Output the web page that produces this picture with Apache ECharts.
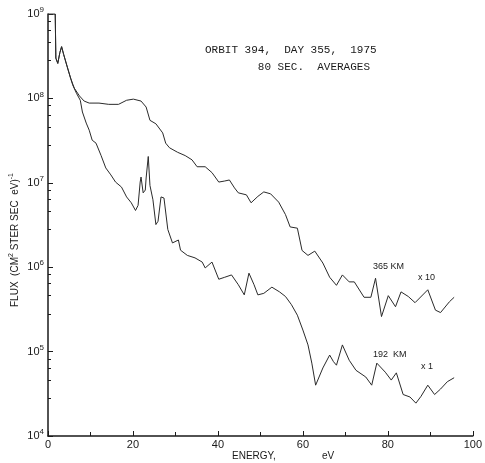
<!DOCTYPE html>
<html>
<head>
<meta charset="utf-8">
<script src="https://cdn.jsdelivr.net/npm/echarts@6/dist/echarts.min.js"></script>
<style>
html, body { margin: 0; padding: 0; background: #fff; }
#Flux { width: 485px; height: 463px; }
</style>
</head>
<body>
<div id="Flux"></div>
<script>
// 365 km (x10) curve, energy in eV / flux
var upperE = [0, 1.7, 1.85, 2.3, 2.8, 3.2, 3.7, 4.2, 4.6,
              5.3, 6.2, 7.4, 8.5, 9.7, 12.0, 14.3, 16.6, 18.5, 20.1,
              21.9, 23.1, 24.0, 25.4, 27.0, 27.7, 28.6, 30.5, 32.3, 33.9,
              35.1, 37.0, 38.6, 40.2, 41.6, 42.7, 43.9, 44.8, 46.7, 47.8,
              49.4, 50.8, 52.4, 54.3, 55.9, 57.0, 58.7, 59.8, 61.2, 62.8,
              64.7, 66.3, 67.9, 69.3, 70.9, 72.1, 74.4, 76.0, 77.1, 78.5,
              80.1, 81.8, 83.1, 84.8, 86.4, 89.4, 91.2, 92.4, 94.5, 95.6];
var upperF = [1e9, 1e9, 3.0e8, 2.6e8, 3.5e8, 4.1e8, 3.3e8, 2.7e8, 2.3e8,
              1.74e8, 1.32e8, 1.07e8, 9.3e7, 8.8e7, 8.8e7, 8.5e7, 8.5e7, 9.5e7, 9.8e7,
              9.3e7, 7.9e7, 5.5e7, 5.0e7, 3.9e7, 2.95e7, 2.6e7, 2.3e7, 2.1e7, 1.87e7,
              1.55e7, 1.55e7, 1.32e7, 1.02e7, 1.05e7, 1.08e7, 8.7e6, 7.6e6, 7.2e6, 5.8e6,
              6.9e6, 7.8e6, 7.4e6, 5.9e6, 4.2e6, 3.0e6, 2.9e6, 1.58e6, 1.38e6, 1.55e6,
              1.12e6, 7.6e5, 6.1e5, 8.1e5, 6.7e5, 6.7e5, 4.4e5, 4.4e5, 7.4e5, 2.6e5,
              4.6e5, 3.4e5, 5.1e5, 4.5e5, 3.8e5, 5.4e5, 3.1e5, 2.9e5, 3.9e5, 4.4e5];

// 192 km (x1) curve
var lowerE = [0, 1.7, 1.85, 2.3, 2.8, 3.2, 3.7, 4.2, 4.6,
              5.1, 5.8, 6.7, 7.6, 8.1, 9.0, 9.7, 10.4, 11.3, 12.5,
              13.6, 14.8, 15.9, 17.3, 18.5, 19.6, 20.6, 21.2, 21.7, 21.9,
              22.4, 22.9, 23.1, 23.6, 24.0, 24.7, 25.4, 25.9, 26.6, 27.3,
              28.2, 29.3, 30.7, 31.2, 32.8, 34.6, 36.3, 37.0, 38.6, 40.2,
              41.6, 43.2, 44.8, 46.2, 47.3, 48.5, 49.4, 50.8, 52.7, 54.5,
              55.9, 57.3, 58.7, 60.0, 61.2, 62.1, 63.0, 64.7, 66.3, 67.2,
              67.9, 69.3, 70.9, 72.5, 74.8, 76.2, 77.4, 79.4, 80.8, 82.0,
              83.6, 85.2, 86.6, 87.8, 89.4, 91.0, 92.4, 94.0, 95.6];
var lowerF = [1e9, 1e9, 3.0e8, 2.6e8, 3.5e8, 4.1e8, 3.3e8, 2.7e8, 2.3e8,
              1.9e8, 1.45e8, 1.15e8, 9.5e7, 6.9e7, 5.1e7, 4.2e7, 3.2e7, 2.95e7, 2.1e7,
              1.5e7, 1.24e7, 1.02e7, 8.9e6, 6.8e6, 5.8e6, 4.7e6, 5.4e6, 1.02e7, 1.17e7,
              7.6e6, 8.2e6, 1.14e7, 2.05e7, 9.3e6, 6.3e6, 3.2e6, 3.5e6, 6.8e6, 6.6e6,
              2.8e6, 1.94e6, 2.1e6, 1.59e6, 1.38e6, 1.29e6, 1.15e6, 9.8e5, 1.15e6, 7.2e5,
              7.6e5, 8.1e5, 6.2e5, 4.7e5, 8.5e5, 6.2e5, 4.7e5, 4.9e5, 5.8e5, 5.1e5,
              4.5e5, 3.6e5, 2.7e5, 1.8e5, 1.2e5, 7.3e4, 4.0e4, 6.4e4, 9.1e4, 7.6e4,
              6.9e4, 1.2e5, 7.9e4, 6.0e4, 5.0e4, 4.0e4, 7.3e4, 5.7e4, 4.6e4, 5.6e4,
              3.1e4, 2.9e4, 2.45e4, 2.95e4, 4.0e4, 3.1e4, 3.6e4, 4.4e4, 4.9e4];

var titleLines = ['ORBIT 394,  DAY 355,  1975', '80 SEC.  AVERAGES'];

var myChart_flux = echarts.init(document.getElementById('Flux'));

var ink = '#1a1a1a';
var font = 'Liberation Sans';

function pairs(xs, ys) {
	var res = [];
	for (var i = 0; i < xs.length; i++) {
		res.push([xs[i], ys[i]]);
	}
	return res;
}

flux_option = {
	backgroundColor : '#ffffff',
	animation : false,
	grid : {
		left : 48,
		right : 4,
		top : 14,
		bottom : 27
	},
	xAxis : {
		type : 'value',
		min : 0,
		max : 100,
		interval : 20,
		axisLine : { lineStyle : { color : ink, width : 1.5 } },
		axisTick : { inside : true, length : 5, lineStyle : { color : ink } },
		minorTick : { show : true, splitNumber : 2, length : 4, lineStyle : { color : ink } },
		splitLine : { show : false },
		axisLabel : { margin : 3, color : ink, fontFamily : font, fontSize : 11 }
	},
	yAxis : {
		type : 'log',
		logBase : 10,
		min : 1e4,
		max : 1e9,
		splitNumber : 5,
		axisLine : { show : true, lineStyle : { color : ink, width : 1.5 } },
		axisTick : { show : true, inside : true, length : 5, lineStyle : { color : ink } },
		minorTick : { show : true, splitNumber : 5, length : 3, lineStyle : { color : ink } },
		splitLine : { show : false },
		axisLabel : {
			margin : 4,
			color : ink,
			fontFamily : font,
			fontSize : 11,
			formatter : function(v) {
				return '10{s|' + Math.round(Math.log(v) / Math.LN10) + '}';
			},
			rich : {
				s : { fontSize : 8, padding : [ 0, 0, 8, 0 ], color : ink, fontFamily : font }
			}
		}
	},
	graphic : [
		{ type : 'text', left : 205, top : 45,
		  style : { text : titleLines[0], font : '11px "Liberation Mono"', fill : ink } },
		{ type : 'text', right : 115, top : 62,
		  style : { text : titleLines[1], font : '11px "Liberation Mono"', fill : ink, textAlign : 'right' } },
		{ type : 'text', x : 373, y : 262,
		  style : { text : '365 KM', font : '9px "Liberation Sans"', fill : ink } },
		{ type : 'text', x : 418, y : 273,
		  style : { text : 'x 10', font : '9px "Liberation Sans"', fill : ink } },
		{ type : 'text', x : 373, y : 350,
		  style : { text : '192  KM', font : '9px "Liberation Sans"', fill : ink } },
		{ type : 'text', x : 421, y : 362,
		  style : { text : 'x 1', font : '9px "Liberation Sans"', fill : ink } },
		{ type : 'text', x : 232, y : 451,
		  style : { text : 'ENERGY,', font : '10px "Liberation Sans"', fill : ink } },
		{ type : 'text', x : 322, y : 451,
		  style : { text : 'eV', font : '10px "Liberation Sans"', fill : ink } },
		{ type : 'text', x : 15, y : 240, rotation : Math.PI / 2,
		  style : {
			text : 'FLUX  (CM{s|2} STER SEC  eV){s|-1}',
			font : '10px "Liberation Sans"',
			fill : ink,
			align : 'center',
			verticalAlign : 'middle',
			rich : { s : { fontSize : 7, padding : [ 0, 0, 7, 0 ], fill : ink } }
		  } }
	],
	series : [ {
		name : '365 KM x10',
		type : 'line',
		data : pairs(upperE, upperF),
		showSymbol : false,
		lineStyle : { color : '#2a2a2a', width : 1 }
	}, {
		name : '192 KM x1',
		type : 'line',
		data : pairs(lowerE, lowerF),
		showSymbol : false,
		lineStyle : { color : '#2a2a2a', width : 1 }
	} ]
};

myChart_flux.setOption(flux_option);
</script>
</body>
</html>
